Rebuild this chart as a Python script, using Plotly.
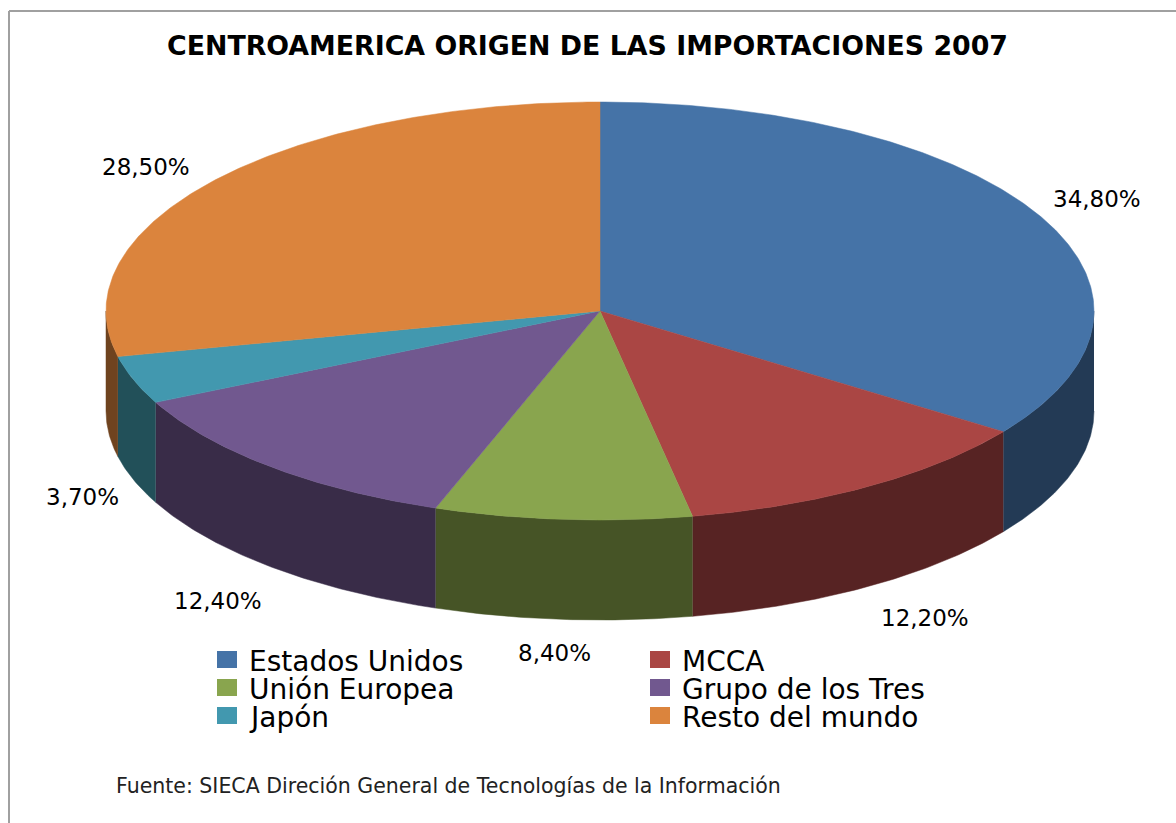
import numpy as np
import plotly.graph_objects as go

# Data
categories = ["Estados Unidos", "MCCA", "Unión Europea", "Grupo de los Tres", "Japón", "Resto del mundo"]
shares = [34.8, 12.2, 8.4, 12.4, 3.7, 28.5]

# Styling
top_colors = ["#4573A7", "#AA4644", "#89A54E", "#71588F", "#4298AF", "#DB843D"]
side_colors = ["#233A55", "#572323", "#465426", "#392C48", "#225059", "#6F431F"]
label_xy = [(1097, 199), (925, 618), (554, 653), (218, 601), (82, 497), (146, 167)]
legend_xy = [(217, 660), (650, 660), (217, 688), (650, 688), (217, 716), (650, 716)]
CX, CY, RX, RY, DEPTH = 600.0, 311.0, 494.0, 209.0, 100.0
TEXT_FONT = "DejaVu Sans"


def rim(a0, a1):
    t = np.radians(np.linspace(a0, a1, max(2, int(abs(a1 - a0) * 2) + 1)))
    return CX + RX * np.sin(t), CY - RY * np.cos(t)


fig = go.Figure()
edges = np.concatenate([[0], np.cumsum(shares)]) * 3.6
edges[-1] = 360.0

# Side walls: only the part of each slice on the near half of the rim
for i, name in enumerate(categories):
    a0, a1 = max(edges[i], 90), min(edges[i + 1], 270)
    if a1 <= a0:
        continue
    x, y = rim(a0, a1)
    fig.add_trace(go.Scatter(
        x=np.concatenate([x, x[::-1]]), y=np.concatenate([y, y[::-1] + DEPTH]),
        mode="lines", fill="toself", fillcolor=side_colors[i],
        line=dict(color=side_colors[i], width=0.5), hoverinfo="skip", showlegend=False))

# Top faces
for i, name in enumerate(categories):
    x, y = rim(edges[i], edges[i + 1])
    fig.add_trace(go.Scatter(
        x=np.concatenate([[CX], x, [CX]]), y=np.concatenate([[CY], y, [CY]]),
        mode="lines", fill="toself", fillcolor=top_colors[i], name=name,
        line=dict(color=top_colors[i], width=0.5), showlegend=False,
        text=f"{shares[i]:.2f}%".replace(".", ","), hoverinfo="name+text"))

annotations = [dict(
    x=587, y=45, xref="x", yref="y", showarrow=False,
    text="<b>CENTROAMERICA ORIGEN DE LAS IMPORTACIONES 2007</b>",
    font=dict(family=TEXT_FONT, size=26.8, color="#000000"))]

for s, (x, y) in zip(shares, label_xy):
    annotations.append(dict(
        x=x, y=y, xref="x", yref="y", showarrow=False,
        text=f"{s:.2f}%".replace(".", ","),
        font=dict(family=TEXT_FONT, size=23, color="#000000")))

shapes = [dict(type="line", xref="x", yref="y", x0=9, x1=9, y0=11, y1=823,
               line=dict(color="#A0A0A0", width=2)),
          dict(type="line", xref="x", yref="y", x0=9, x1=1176, y0=11, y1=11,
               line=dict(color="#A0A0A0", width=2))]
for name, color, (x, y) in zip(categories, top_colors, legend_xy):
    shapes.append(dict(type="rect", xref="x", yref="y", x0=x, x1=x + 20, y0=y - 9, y1=y + 8,
                       fillcolor=color, line=dict(width=0)))
    annotations.append(dict(
        x=x + 30, y=y + 1, xref="x", yref="y", xanchor="left", showarrow=False, text=name,
        font=dict(family=TEXT_FONT, size=28, color="#000000")))

annotations.append(dict(
    x=114, y=786, xref="x", yref="y", xanchor="left", showarrow=False,
    text="Fuente: SIECA Direción General de Tecnologías de la Información",
    font=dict(family=TEXT_FONT, size=20.5, color="#222222")))

fig.update_layout(
    width=1176, height=823, margin=dict(l=0, r=0, t=0, b=0),
    paper_bgcolor="#FFFFFF", plot_bgcolor="#FFFFFF", showlegend=False,
    xaxis=dict(range=[0, 1176], visible=False, fixedrange=True),
    yaxis=dict(range=[823, 0], visible=False, fixedrange=True),
    annotations=annotations, shapes=shapes)

fig.write_html("out.html", config={"displayModeBar": False},
               post_script="document.body.style.margin='0';document.body.style.overflow='hidden';")
